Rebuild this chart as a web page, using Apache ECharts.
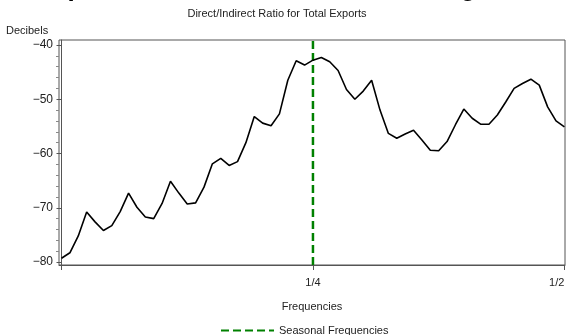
<!DOCTYPE html>
<html>
<head>
<meta charset="utf-8">
<script src="https://cdn.jsdelivr.net/npm/echarts@6/dist/echarts.min.js"></script>
<style>
  html, body { margin: 0; padding: 0; background: #fff; }
  #chart { width: 568px; height: 335px; }
</style>
</head>
<body>
<div id="chart"></div>
<script>
// Spectrum of the direct/indirect ratio, 61 ordinates from 0 to 1/2 cycles
const spectrumDb = [
  -79.3, -78.3, -75.2, -70.8, -72.6, -74.2, -73.3, -70.7, -67.3, -69.9,
  -71.7, -72.0, -69.2, -65.1, -67.3, -69.3, -69.1, -66.2, -61.9, -60.9,
  -62.2, -61.5, -58.0, -53.2, -54.4, -54.9, -52.7, -46.5, -42.9, -43.7,
  -42.8, -42.3, -43.1, -44.7, -48.2, -50.0, -48.5, -46.5, -52.0, -56.3,
  -57.2, -56.4, -55.7, -57.5, -59.4, -59.5, -57.8, -54.7, -51.8, -53.5,
  -54.6, -54.6, -52.9, -50.5, -48.0, -47.1, -46.3, -47.4, -51.4, -54.0,
  -55.1
];
const ordinatesPerCycle = 120;          // spacing of the ordinates: k/120
const seasonalFrequencies = [0.25];
const xTickValues = [0, 0.25, 0.5];
const xTickLabels = { 0.25: '1/4', 0.5: '1/2' };
const yMajorTicks = [-80, -70, -60, -50, -40];
const yMinorTicks = [-78, -76, -74, -72, -68, -66, -64, -62, -58, -56, -54, -52, -48, -46, -44, -42];

const Y_MIN = -80.55, Y_MAX = -39.08;
const X_MIN = -0.0025, X_MAX = 0.5006;

const lineData = spectrumDb.map((v, k) => [k / ordinatesPerCycle, v]);

const textColor = '#222';
const axisColor = '#555';
const font = 'Liberation Sans, Arial, sans-serif';

const seasonalSeries = seasonalFrequencies.map(f => ({
  name: 'Seasonal Frequencies',
  type: 'line',
  xAxisIndex: 0,
  yAxisIndex: 0,
  symbol: 'none',
  silent: true,
  z: 3,
  data: [[f, Y_MIN], [f, Y_MAX]],
  lineStyle: { color: '#008000', width: 2.5, type: [8, 4] },
  itemStyle: { color: '#008000' }
}));

const chart = echarts.init(document.getElementById('chart'), null, { renderer: 'canvas' });
chart.setOption({
  animation: false,
  backgroundColor: '#fff',
  textStyle: { fontFamily: font, color: textColor },
  title: {
    text: 'Direct/Indirect Ratio for Total Exports',
    left: 272,
    textAlign: 'center',
    top: 3,
    textStyle: { fontSize: 11, fontWeight: 'normal', color: textColor, fontFamily: font }
  },
  graphic: [
    {
      type: 'text',
      x: 287, y: 1.5,
      style: {
        text: 'Spectral Plot for the Modified Irregular',
        font: 'bold 26px ' + font,
        fill: '#000',
        align: 'center',
        verticalAlign: 'bottom'
      }
    },
    {
      type: 'text',
      x: 6, y: 31,
      style: {
        text: 'Decibels',
        font: '11px ' + font,
        fill: textColor,
        align: 'left',
        verticalAlign: 'middle'
      }
    }
  ],
  legend: {
    data: ['Seasonal Frequencies'],
    left: 220,
    top: 325,
    padding: 0,
    itemWidth: 53,
    itemHeight: 10,
    itemGap: 4,
    itemStyle: { color: 'transparent', borderWidth: 0 },
    textStyle: { fontSize: 11, color: textColor, fontFamily: font }
  },
  grid: {
    left: 59, right: 3, top: 40, bottom: 70,
    outerBoundsMode: 'none',
    containLabel: false,
    show: true,
    borderColor: axisColor,
    borderWidth: 1,
    backgroundColor: 'transparent'
  },
  xAxis: [{
    type: 'value',
    min: X_MIN, max: X_MAX,
    name: 'Frequencies',
    nameLocation: 'middle',
    nameGap: 36,
    nameTextStyle: { fontSize: 11, color: textColor, fontFamily: font },
    splitLine: { show: false },
    axisLine: { show: true, lineStyle: { color: axisColor, width: 1 } },
    axisTick: { show: true, length: 5, lineStyle: { color: axisColor }, customValues: xTickValues },
    axisLabel: {
      fontSize: 11, color: textColor, margin: 12, fontFamily: font,
      customValues: [0.25, 0.5],
      alignMaxLabel: 'right',
      formatter: v => xTickLabels[v] || ''
    }
  }],
  yAxis: [{
    type: 'value',
    min: Y_MIN, max: Y_MAX,
    splitLine: { show: false },
    axisLine: { show: true, lineStyle: { color: axisColor, width: 1 } },
    axisTick: { show: true, length: 5, lineStyle: { color: axisColor }, customValues: yMajorTicks },
    axisLabel: {
      fontSize: 12, color: textColor, margin: 6, fontFamily: font,
      customValues: yMajorTicks,
      formatter: v => String(Math.round(v)).replace('-', '\u2212')
    }
  }, {
    type: 'value',
    position: 'left',
    min: Y_MIN, max: Y_MAX,
    splitLine: { show: false },
    axisLine: { show: false },
    axisTick: { show: true, length: 3, lineStyle: { color: '#888' }, customValues: yMinorTicks },
    axisLabel: { show: false }
  }],
  series: [{
    name: 'Spectrum',
    type: 'line',
    symbol: 'none',
    z: 4,
    data: lineData,
    lineStyle: { color: '#000', width: 1.6 },
    itemStyle: { color: '#000' }
  }].concat(seasonalSeries)
});
</script>
</body>
</html>
